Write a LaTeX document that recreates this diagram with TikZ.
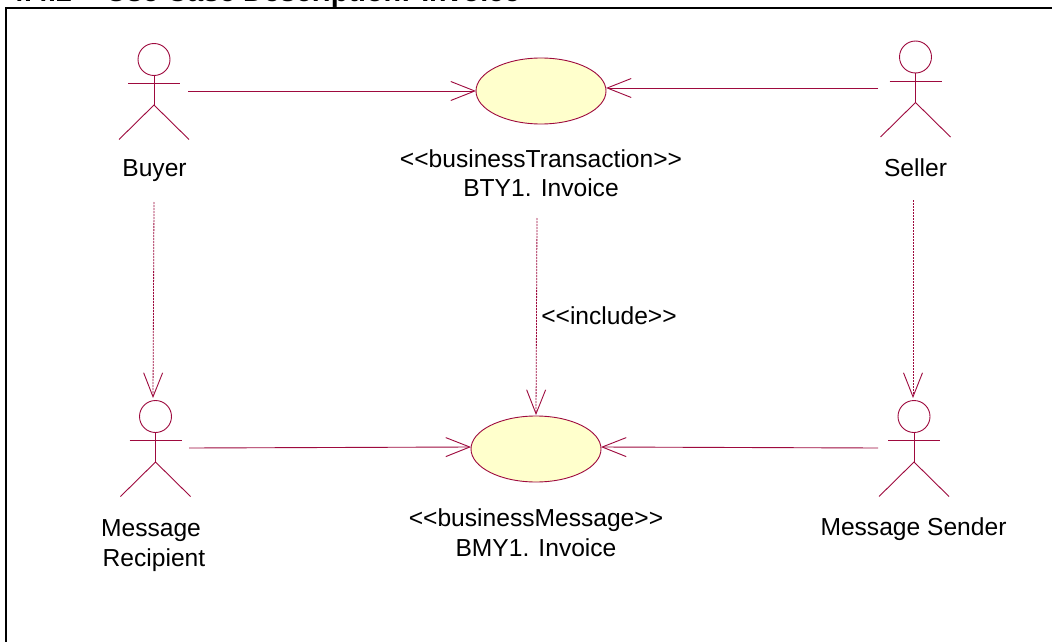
\documentclass[tikz,border=0pt]{standalone}
\usepackage{fontspec}
\setmainfont{Liberation Sans}
\usetikzlibrary{arrows.meta,shapes.geometric}
\definecolor{umlline}{RGB}{158,10,62}
\definecolor{umlfill}{RGB}{255,255,204}
\tikzset{
  umlbox/.style={inner sep=0pt,outer sep=0pt},
  usecase/.style={ellipse,draw=umlline,fill=umlfill,line width=0.9pt,minimum width=130pt,minimum height=66pt,inner sep=0pt,outer sep=0pt},
  label/.style={inner sep=0pt,outer sep=0pt,align=center,font=\fontsize{24.6pt}{29.5pt}\selectfont},
  figline/.style={draw=umlline,line width=0.9pt},
  assoc/.style={draw=umlline,line width=0.9pt,-{Straight Barb[length=24pt,width=19pt,line width=0.9pt]}},
  dep/.style={assoc,line width=0.8pt,dash pattern=on 2pt off 1pt},
  frameline/.style={draw=black,line width=2pt}
}
\newcommand{\actorfig}[5]{% name, x, head y, connector y, box width
  \node[umlbox,minimum width=#5pt,minimum height=100pt] (#1) at (#2,#4) {};
  \draw[figline] (#2,#3) circle (16pt);
  \draw[figline] (#2-26,#3+24) -- (#2+26,#3+24);
  \draw[figline] (#2,#3+16) -- (#2,#3+45.5);
  \draw[figline] (#2-35,#3+80) -- (#2,#3+45.5) -- (#2+35,#3+80);
}
\begin{document}
\begin{tikzpicture}[x=1pt,y=-1pt]
\useasboundingbox (0,0) rectangle (1052,642);
\clip (0,0) rectangle (1052,642);
\fill[white] (0,0) rectangle (1052,642);
\node[anchor=base west,inner sep=0pt,font=\fontsize{28.7pt}{30pt}\selectfont\bfseries] (title) at (8,2) {4.4.2\hspace{34pt}Use Case Description: Invoice};
\draw[frameline] (6,642) -- (6,8) -- (1052,8);

\actorfig{buyer}{154}{59.5}{91}{68}
\actorfig{seller}{915.5}{57}{88}{75}
\actorfig{recipient}{155.5}{416.5}{448}{67}
\actorfig{sender}{914}{416.5}{448}{72}

\node[usecase] (uctrans) at (541,91) {};
\node[usecase] (ucmsg) at (536,449) {};

\node[label,minimum height=62pt] (buyerl) at (154.5,171) {Buyer};
\node[label,minimum height=64pt] (sellerl) at (915.5,168) {Seller};
\node[label,minimum height=90pt] (transl) at (541,173) {\mbox{<}\mbox{<}businessTransaction\mbox{>}\mbox{>}\\BTY1. Invoice};
\node[label] (msgl) at (536,532.5) {\mbox{<}\mbox{<}businessMessage\mbox{>}\mbox{>}\\BMY1. Invoice};
\node[label] (recl) at (154,545.5) {Message\hspace*{6pt}\\Recipient};
\node[label] (senderl) at (913.5,529.5) {Message Sender};
\node[label] (incl) at (609,316) {\mbox{<}\mbox{<}include\mbox{>}\mbox{>}};

\draw[assoc] (buyer.east) -- (uctrans.west);
\draw[assoc] (seller.west) -- ([yshift=3pt]uctrans.east);
\draw[assoc] (recipient.east) -- ([yshift=2pt]ucmsg.west);
\draw[assoc] (sender.west) -- ([yshift=2pt]ucmsg.east);
\draw[dep] ([xshift=-0.5pt]buyerl.south) -- ([xshift=-2.5pt]recipient.north);
\draw[dep] ([xshift=-2.5pt]sellerl.south) -- ([xshift=-1pt]sender.north);
\draw[dep] ([xshift=-4pt]transl.south) -- ([yshift=1pt]ucmsg.north);
\end{tikzpicture}
\end{document}
